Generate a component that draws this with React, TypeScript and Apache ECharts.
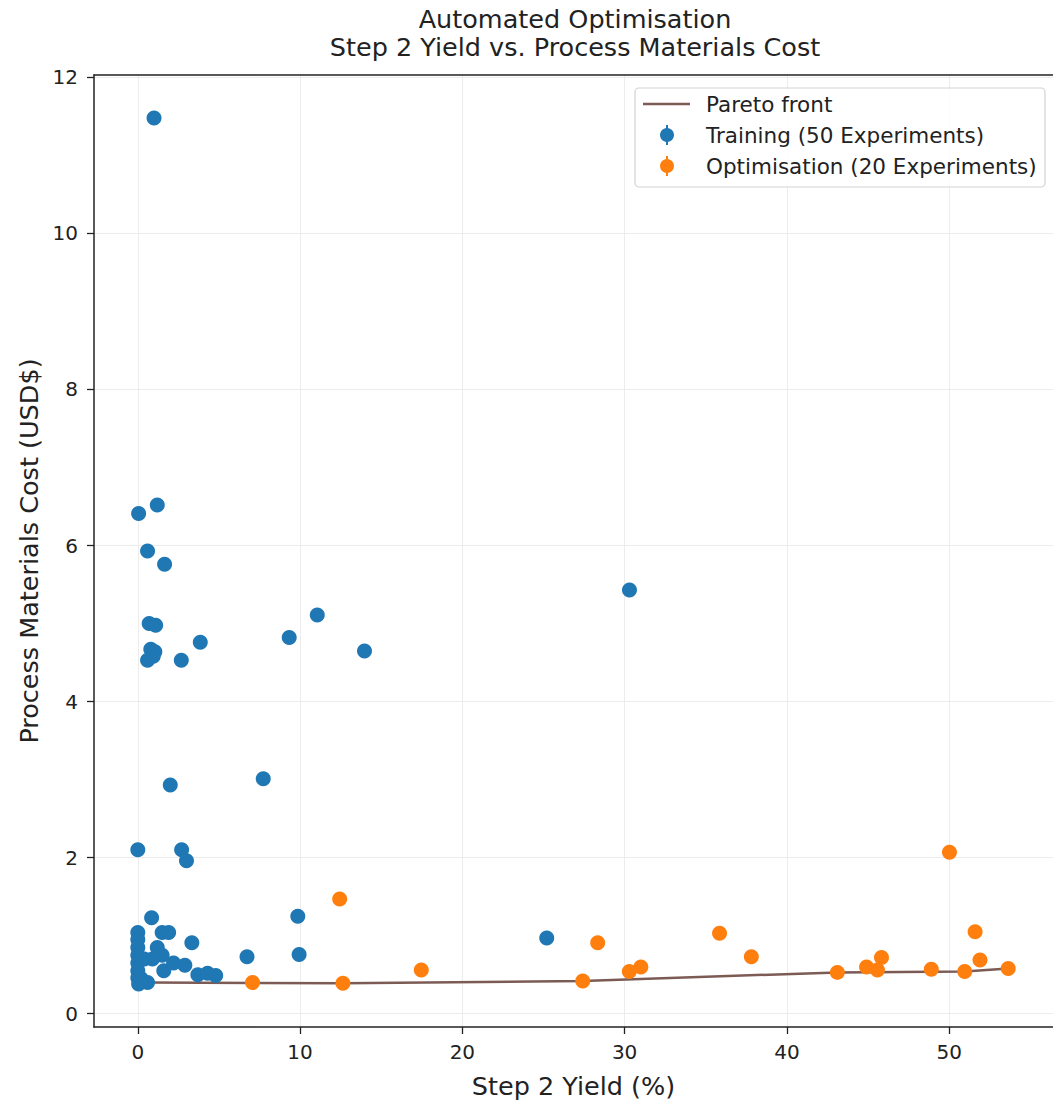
import React, { useEffect, useRef } from "react";
import * as echarts from "echarts";

const trainingX = [1.0, 1.2, 0.05, 0.6, 1.65, 0.7, 1.1, 0.8, 1.05, 0.6, 0.95, 2.68, 3.85, 9.33, 11.06, 13.97, 30.3, 2.0, 7.73, 0.0, 2.7, 3.0, 9.86, 0.85, 9.94, 6.73, 3.33, 1.5, 1.9, 25.2, 2.9, 3.7, 4.3, 4.8, 1.6, 1.5, 0.9, 0.6, 0.0, 0.0, 0.0, 0.0, 0.0, 0.0, 0.0, 0.05, 2.2, 1.2, 0.4, 0.2];
const trainingY = [11.48, 6.52, 6.41, 5.93, 5.76, 5.0, 4.98, 4.67, 4.64, 4.53, 4.58, 4.53, 4.76, 4.82, 5.11, 4.65, 5.43, 2.93, 3.01, 2.1, 2.1, 1.96, 1.25, 1.23, 0.76, 0.73, 0.91, 1.04, 1.04, 0.97, 0.62, 0.5, 0.52, 0.49, 0.55, 0.75, 0.7, 0.4, 1.04, 0.95, 0.85, 0.75, 0.65, 0.55, 0.46, 0.38, 0.65, 0.85, 0.7, 0.45];

const optX = [12.44, 12.64, 7.07, 17.47, 27.42, 28.34, 30.29, 31.0, 35.85, 37.81, 43.11, 44.91, 45.58, 45.83, 48.9, 50.02, 50.96, 51.6, 51.9, 53.64];
const optY = [1.47, 0.39, 0.4, 0.56, 0.42, 0.91, 0.54, 0.6, 1.03, 0.73, 0.53, 0.6, 0.56, 0.72, 0.57, 2.07, 0.54, 1.05, 0.69, 0.58];

const paretoX = [0.6, 12.64, 27.42, 43.11, 50.96, 53.64];
const paretoY = [0.4, 0.39, 0.42, 0.53, 0.54, 0.58];

const xTicks = [0, 10, 20, 30, 40, 50];
const yTicks = [0, 2, 4, 6, 8, 10, 12];

const titleLines = ["Automated Optimisation", "Step 2 Yield vs. Process Materials Cost"];
const legendLabels = ["Pareto front", "Training (50 Experiments)", "Optimisation (20 Experiments)"];

const FONT = "DejaVu Sans";
const BLUE = "#1f77b4";
const ORANGE = "#ff7f0e";
const BROWN = "#7d5b55";
const INK = "#222";

export default function App() {
  const ref = useRef<HTMLDivElement>(null);
  useEffect(() => {
    const chart = echarts.init(ref.current!, null, { renderer: "svg" });
    const zip = (xs: number[], ys: number[]) => xs.map((x, i) => [x, ys[i]]);
    const rows = [104, 135, 166];
    chart.setOption({
      animation: false,
      backgroundColor: "#fff",
      grid: {
        left: 94,
        width: 963,
        top: 75,
        height: 957,
        show: false,
      },
      xAxis: [
        {
          type: "value",
          min: -2.7,
          max: 56.4,
          name: "Step 2 Yield (%)",
          nameLocation: "middle",
          nameGap: 46,
          nameTextStyle: { fontFamily: FONT, fontSize: 25.5, color: INK },
          axisLine: { show: true, onZero: false, lineStyle: { color: INK, width: 1.5 } },
          axisTick: { show: true, length: 7, customValues: xTicks, lineStyle: { color: INK, width: 1.3 } },
          axisLabel: { customValues: xTicks, fontFamily: FONT, fontSize: 20, color: INK, margin: 15 },
          splitLine: { show: true, lineStyle: { color: "#ececec", width: 1 } },
        },
        {
          type: "value",
          position: "top",
          min: -2.7,
          max: 56.4,
          axisLine: { show: true, onZero: false, lineStyle: { color: INK, width: 1.5 } },
          axisTick: { show: false },
          axisLabel: { show: false },
          splitLine: { show: false },
        },
      ],
      yAxis: {
        type: "value",
        min: -0.17,
        max: 12.03,
        name: "Process Materials Cost (USD$)",
        nameLocation: "middle",
        nameGap: 52,
        nameTextStyle: { fontFamily: FONT, fontSize: 25.5, color: INK },
        axisLine: { show: true, onZero: false, lineStyle: { color: INK, width: 1.5 } },
        axisTick: { show: true, length: 7, customValues: yTicks, lineStyle: { color: INK, width: 1.3 } },
        axisLabel: { customValues: yTicks, fontFamily: FONT, fontSize: 20, color: INK, margin: 16 },
        splitLine: { show: true, lineStyle: { color: "#ececec", width: 1 } },
      },
      series: [
        {
          name: legendLabels[0],
          type: "line",
          data: zip(paretoX, paretoY),
          showSymbol: false,
          lineStyle: { color: BROWN, width: 2.5 },
          z: 1,
        },
        {
          name: legendLabels[1],
          type: "scatter",
          data: zip(trainingX, trainingY),
          symbolSize: 15,
          itemStyle: { color: BLUE, opacity: 1 },
          z: 2,
        },
        {
          name: legendLabels[2],
          type: "scatter",
          data: zip(optX, optY),
          symbolSize: 15,
          itemStyle: { color: ORANGE, opacity: 1 },
          z: 3,
        },
      ],
      graphic: [
        {
          type: "text",
          x: 575,
          y: 19,
          style: { text: titleLines[0], fontFamily: FONT, fontSize: 25.5, fill: INK, textAlign: "center", textVerticalAlign: "middle" },
        },
        {
          type: "text",
          x: 575,
          y: 47,
          style: { text: titleLines[1], fontFamily: FONT, fontSize: 25.5, fill: INK, textAlign: "center", textVerticalAlign: "middle" },
        },
        {
          type: "rect",
          z: 10,
          shape: { x: 635, y: 88, width: 410, height: 99, r: 4 },
          style: { fill: "rgba(255,255,255,0.85)", stroke: "#d3d3d3", lineWidth: 1.2 },
        },
        {
          type: "line",
          z: 11,
          shape: { x1: 643, y1: rows[0], x2: 690, y2: rows[0] },
          style: { stroke: BROWN, lineWidth: 2.5 },
        },
        {
          type: "line",
          z: 11,
          shape: { x1: 667, y1: rows[1] - 10, x2: 667, y2: rows[1] + 10 },
          style: { stroke: BLUE, lineWidth: 2 },
        },
        { type: "circle", z: 11, shape: { cx: 667, cy: rows[1], r: 7 }, style: { fill: BLUE } },
        {
          type: "line",
          z: 11,
          shape: { x1: 667, y1: rows[2] - 10, x2: 667, y2: rows[2] + 10 },
          style: { stroke: ORANGE, lineWidth: 2 },
        },
        { type: "circle", z: 11, shape: { cx: 667, cy: rows[2], r: 7 }, style: { fill: ORANGE } },
        ...legendLabels.map((t, i) => ({
          type: "text",
          z: 11,
          x: 706,
          y: rows[i],
          style: { text: t, fontFamily: FONT, fontSize: 21.5, fill: INK, textVerticalAlign: "middle" },
        })),
      ],
    });
    return () => chart.dispose();
  }, []);
  return <div ref={ref} style={{ position: "absolute", left: 0, top: 0, width: 1053, height: 1104 }} />;
}
